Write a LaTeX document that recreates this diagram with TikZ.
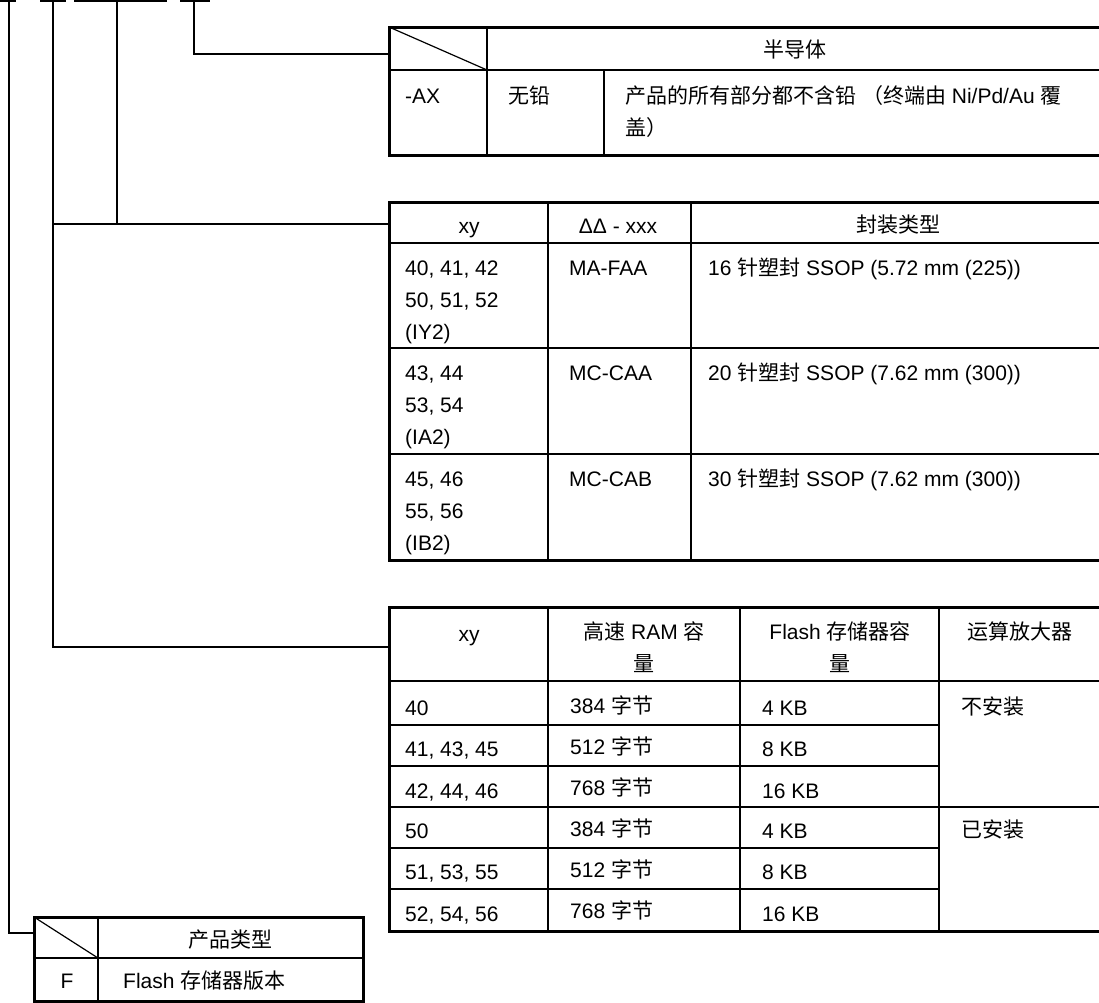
\documentclass[tikz,border=0pt]{standalone}
\usepackage{fontspec}
\setmainfont{Liberation Sans}
\newfontfamily\cjkfont{Noto Sans CJK SC}
\newcommand\zh[1]{{\cjkfont #1}}
\begin{document}
\begin{tikzpicture}[x=1pt,y=-1pt,
 outer/.style={line width=3pt},
 headl/.style={line width=2.7pt},
 inner/.style={line width=2.2pt},
 conn/.style={line width=2pt},
 diag/.style={line width=1.2pt},
 txt/.style={inner sep=0pt, font=\fontsize{21}{25}\selectfont},
 lt/.style={txt, anchor=base west},
 ct/.style={txt, anchor=base}]
\clip (0,0) rectangle (1099,1002);
\fill[white] (0,0) rectangle (1099,1002);

% anchor points
\coordinate (k1) at (9,1.2);
\coordinate (k2) at (53,1.2);
\coordinate (k3) at (117,1.2);
\coordinate (k4) at (194,1.2);
\coordinate (t1) at (388,54);
\coordinate (t2) at (388,224);
\coordinate (j2) at (117,224);
\coordinate (t3) at (388,647);
\coordinate (t4) at (34,933);

% tick bars
\draw[conn] (0,1.2) -- (16,1.2);
\draw[conn] (40,1.2) -- (66,1.2);
\draw[conn] (74,1.2) -- (167,1.2);
\draw[conn] (180,1.2) -- (210,1.2);

% connectors
\draw[conn] (k4) |- (t1);
\draw[conn] (k3) -- (j2);
\draw[conn] (k2) |- (t3);
\draw[conn] (k2 |- t2) -- (t2);
\draw[conn] (k1) |- (t4);

% ===== Table 1
\draw[inner] (487,27) -- (487,155);
\draw[inner] (604,70) -- (604,155);
\draw[headl] (389,70) -- (1120,70);
\draw[diag] (389,27) -- (487,70);
\draw[outer] (389,27) rectangle (1120,155);
\node[ct] (h1) at (795,57) {\zh{半导体}};
\node[lt] (a1) at (405,103) {-AX};
\node[lt] (a2) at (508,103) {\zh{无铅}};
\node[lt] (a3) at (625,103) {\zh{产品的所有部分都不含铅} \zh{（终端由} Ni/Pd/Au \zh{覆}};
\node[lt] (a4) at (625,135) {\zh{盖）}};

% ===== Table 2
\draw[inner] (548,202) -- (548,560);
\draw[inner] (691,202) -- (691,560);
\draw[inner] (389,348) -- (1120,348);
\draw[inner] (389,454) -- (1120,454);
\draw[headl] (389,243) -- (1120,243);
\draw[outer] (389,202) rectangle (1120,560);
\node[ct] (p1) at (469,233) {xy};
\node[ct] (p2) at (618,233) {ΔΔ - xxx};
\node[ct] (p3) at (898,232) {\zh{封装类型}};
\node[lt] (q11) at (405,275) {40, 41, 42};
\node[lt] (q12) at (405,307) {50, 51, 52};
\node[lt] (q13) at (405,339) {(IY2)};
\node[lt] (q14) at (569,275) {MA-FAA};
\node[lt] (q15) at (708,275) {16 \zh{针塑封} SSOP (5.72 mm (225))};
\node[lt] (q21) at (405,380) {43, 44};
\node[lt] (q22) at (405,412) {53, 54};
\node[lt] (q23) at (405,444) {(IA2)};
\node[lt] (q24) at (569,380) {MC-CAA};
\node[lt] (q25) at (708,380) {20 \zh{针塑封} SSOP (7.62 mm (300))};
\node[lt] (q31) at (405,486) {45, 46};
\node[lt] (q32) at (405,518) {55, 56};
\node[lt] (q33) at (405,550) {(IB2)};
\node[lt] (q34) at (569,486) {MC-CAB};
\node[lt] (q35) at (708,486) {30 \zh{针塑封} SSOP (7.62 mm (300))};

% ===== Table 3
\draw[inner] (548,607) -- (548,931);
\draw[inner] (740,607) -- (740,931);
\draw[inner] (939,607) -- (939,931);
\draw[inner] (389,725) -- (939,725);
\draw[inner] (389,766) -- (939,766);
\draw[inner] (389,807) -- (1120,807);
\draw[inner] (389,848) -- (939,848);
\draw[inner] (389,889) -- (939,889);
\draw[headl] (389,681) -- (1120,681);
\draw[outer] (389,607) rectangle (1120,931);
\node[ct] (r1) at (469,641) {xy};
\node[ct] (r2) at (644,639) {\zh{高速} RAM \zh{容}};
\node[ct] (r2b) at (644,671) {\zh{量}};
\node[ct] (r3) at (840,639) {Flash \zh{存储器容}};
\node[ct] (r3b) at (840,671) {\zh{量}};
\node[ct] (r4) at (1020,639) {\zh{运算放大器}};
\node[lt] (s11) at (405,715) {40};
\node[lt] (s21) at (405,756) {41, 43, 45};
\node[lt] (s31) at (405,798) {42, 44, 46};
\node[lt] (s41) at (405,838) {50};
\node[lt] (s51) at (405,879) {51, 53, 55};
\node[lt] (s61) at (405,921) {52, 54, 56};
\node[lt] (s12) at (570,713) {384 \zh{字节}};
\node[lt] (s22) at (570,754) {512 \zh{字节}};
\node[lt] (s32) at (570,795) {768 \zh{字节}};
\node[lt] (s42) at (570,836) {384 \zh{字节}};
\node[lt] (s52) at (570,877) {512 \zh{字节}};
\node[lt] (s62) at (570,918) {768 \zh{字节}};
\node[lt] (s13) at (762,715) {4 KB};
\node[lt] (s23) at (762,756) {8 KB};
\node[lt] (s33) at (762,798) {16 KB};
\node[lt] (s43) at (762,838) {4 KB};
\node[lt] (s53) at (762,879) {8 KB};
\node[lt] (s63) at (762,921) {16 KB};
\node[lt] (s14) at (961,714) {\zh{不安装}};
\node[lt] (s44) at (961,837) {\zh{已安装}};

% ===== Table 4
\draw[inner] (98,917) -- (98,1001);
\draw[headl] (34,958) -- (363,958);
\draw[diag] (34,917) -- (98,958);
\draw[outer] (34,917) rectangle (363,1001);
\node[ct] (u1) at (230,947) {\zh{产品类型}};
\node[ct] (u2) at (67,988) {F};
\node[lt] (u3) at (123,988) {Flash \zh{存储器版本}};
\end{tikzpicture}
\end{document}
